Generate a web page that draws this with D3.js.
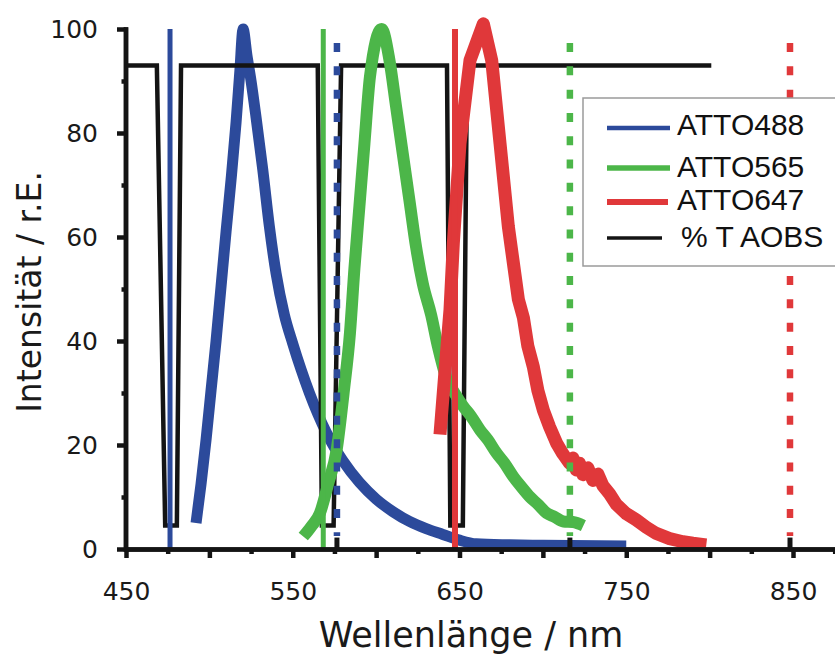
<!DOCTYPE html>
<html>
<head>
<meta charset="utf-8">
<script src="https://cdn.jsdelivr.net/npm/d3@7"></script>
<style>
  html, body { margin: 0; padding: 0; background: #fff; }
  svg { display: block; }
</style>
</head>
<body>
<svg id="chart" width="835" height="655"></svg>
<script>
// ---------------- DATA ----------------
const seriesNames = ["ATTO488", "ATTO565", "ATTO647", "% T AOBS"];
const seriesColors = ["#2c4a9b", "#4cb649", "#e0383a", "#141414"];

// emission spectra [wavelength nm, intensity]
const atto488 = [[492,5],[495,12.5],[498,21],[501,30.5],[504,40],[507,50.5],[510,61],[513,71],[516,82],
  [518.3,92],[520.2,100],[522.5,95],[525,90],[528,83],[532,73],[536,62],[540,53],[545,45],[550,39.5],
  [555,34.5],[560,30],[565,26],[570,22.5],[575,19.5],[580,17],[590,12.8],[600,9.6],[610,7.2],[620,5.3],
  [630,3.9],[640,2.8],[650,1.7],[660,1.0],[680,0.8],[700,0.7],[750,0.6]];
const atto565 = [[556.3,2.4],[561,4.3],[566.3,6.9],[571.3,12.6],[576.3,19],[580.5,30],[584.3,41.5],[587,54],
  [590,66],[593,78],[596.3,90.8],[603.3,100],[608,94],[612,85],[616,76],[620,67],[624,58],[628,51],[633,45],
  [637,39],[642,33],[647,30],[652.3,27.4],[657,25.5],[662.3,22.9],[667,21],[672.3,18.4],[677,16.5],[682.3,13.9],
  [687,12],[692.3,10],[697,8.6],[702.3,6.9],[707,6.2],[712.3,5.3],[718,5.2],[724.3,4.5]];
const atto647 = [[638.3,22],[641,33],[644.3,46],[646.3,58.8],[650.3,78],[656.3,94],[664.3,101],[669.3,94],
  [674.3,78],[679.3,62],[682.3,55],[685.3,48],[688.3,44.5],[691,39],[694.3,35],[697,30.5],[700.3,26.7],
  [704,23.5],[708.3,20.3],[712,18.3],[716,16.5],[718,17.5],[720,15.2],[722,16.5],[724,14.3],[727,15.6],
  [730,13.2],[733,14.4],[736,12.2],[740,10.6],[744,8.6],[750,6.8],[756,5.6],[762,4.2],[768,3],[776,2],
  [784,1.4],[790,1.1],[798,0.8]];
// AOBS transmission
const aobs = [[450,93],[468.5,93],[473.5,4.5],[480.5,4.5],[483,93],[565,93],[567.5,4.5],[574.5,4.5],[579,93],
  [642.5,93],[644.5,4.5],[652,4.5],[654.5,93],[801,93]];

// laser lines (solid) and detection limits (dashed)
const laserLines = [476.4, 568.3, 647.3];
const dashedLines = [576.5, 716.2, 848.2];
const dashTop = 97.3;

const xLabelTicks = [450, 550, 650, 750, 850];
const xMajorTicks = [450, 500, 550, 600, 650, 700, 750, 800, 850];
const xMinorTicks = [475, 525, 575, 625, 675, 725, 775, 825, 875];
const yMajorTicks = [0, 20, 40, 60, 80, 100];
const yMinorTicks = [10, 30, 50, 70, 90];

const xTitle = "Wellenlänge / nm";
const yTitle = "Intensität / r.E.";

// ---------------- CHART ----------------
const svg = d3.select("#chart");
const x = d3.scaleLinear().domain([450, 880]).range([126, 126 + 430 * 1.6675]);
const y = d3.scaleLinear().domain([0, 100]).range([549, 29]);

const numFont = "'DejaVu Sans', sans-serif";
const AX = "#141414";

const smooth = d3.line().x(d => x(d[0])).y(d => y(d[1])).curve(d3.curveMonotoneX);
const straight = d3.line().x(d => x(d[0])).y(d => y(d[1]));

// emission curves & AOBS
svg.append("path").attr("d", smooth(atto488))
  .attr("fill", "none").attr("stroke", seriesColors[0]).attr("stroke-width", 11).attr("stroke-linejoin", "round");
svg.append("path").attr("d", straight(aobs))
  .attr("fill", "none").attr("stroke", seriesColors[3]).attr("stroke-width", 4.5).attr("stroke-linejoin", "miter");
svg.append("path").attr("d", smooth(atto565))
  .attr("fill", "none").attr("stroke", seriesColors[1]).attr("stroke-width", 12).attr("stroke-linejoin", "round");
svg.append("path").attr("d", straight(atto647))
  .attr("fill", "none").attr("stroke", seriesColors[2]).attr("stroke-width", 13).attr("stroke-linejoin", "round");

// laser lines
svg.selectAll(".laser").data(laserLines).join("line").attr("class", "laser")
  .attr("x1", d => x(d)).attr("x2", d => x(d)).attr("y1", y(100)).attr("y2", y(0))
  .attr("stroke", (d, i) => seriesColors[i]).attr("stroke-width", (d, i) => i === 2 ? 6 : 5);

// dashed lines
svg.selectAll(".dash").data(dashedLines).join("line").attr("class", "dash")
  .attr("x1", d => x(d)).attr("x2", d => x(d)).attr("y1", y(dashTop)).attr("y2", y(2.5))
  .attr("stroke", (d, i) => seriesColors[i]).attr("stroke-width", 6.5).attr("stroke-dasharray", "9,14.3");
svg.selectAll(".dashEnd").data(dashedLines).join("line").attr("class", "dashEnd")
  .attr("x1", d => x(d)).attr("x2", d => x(d)).attr("y1", y(2.2)).attr("y2", y(0))
  .attr("stroke", AX).attr("stroke-width", 5);

// axes
const gx = svg.append("g").attr("transform", `translate(0,${y(0)})`);
gx.append("g").call(d3.axisBottom(x).tickValues(xMinorTicks).tickSize(5).tickSizeOuter(0).tickFormat(""));
gx.append("g").call(d3.axisBottom(x).tickValues(xMajorTicks).tickSize(9).tickSizeOuter(0).tickPadding(24)
  .tickFormat(d => xLabelTicks.includes(d) ? d : ""));
const gy = svg.append("g").attr("transform", `translate(${x(450) - 0.5},0)`);
gy.append("g").call(d3.axisLeft(y).tickValues(yMinorTicks).tickSize(4).tickSizeOuter(0).tickFormat(""));
gy.append("g").call(d3.axisLeft(y).tickValues(yMajorTicks).tickSize(8.5).tickSizeOuter(0).tickPadding(19));

svg.selectAll(".domain").attr("stroke", AX).attr("stroke-width", 4.5).attr("stroke-linecap", "square");
svg.selectAll(".tick line").attr("stroke", AX).attr("stroke-width", 4.5);
svg.selectAll(".tick text").attr("fill", "#1a1a1a").style("font-family", numFont)
  .style("font-weight", 400).style("font-size", "25px");

// axis titles
svg.append("text").text(xTitle).attr("x", 471).attr("y", 647).attr("text-anchor", "middle")
  .style("font-family", numFont).style("font-weight", 400).style("font-size", "35px").attr("fill", "#1a1a1a");
svg.append("text").text(yTitle).attr("transform", "translate(41,292) rotate(-90)").attr("text-anchor", "middle")
  .style("font-family", numFont).style("font-weight", 400).style("font-size", "33px").attr("fill", "#1a1a1a");

// legend
const lg = svg.append("g");
lg.append("rect").attr("x", 583).attr("y", 98).attr("width", 300).attr("height", 168)
  .attr("fill", "#fff").attr("stroke", "#9a9a9a").attr("stroke-width", 1.5);
const legLineY = [128, 168, 202, 238];
const legTextY = [135, 177, 210, 247];
const legLineX2 = [670, 670, 668, 662];
const legWidth = [4.5, 5.5, 6, 3.5];
seriesNames.forEach((n, i) => {
  lg.append("line").attr("x1", 607).attr("x2", legLineX2[i]).attr("y1", legLineY[i]).attr("y2", legLineY[i])
    .attr("stroke", seriesColors[i]).attr("stroke-width", legWidth[i]);
  lg.append("text").text(n).attr("x", i === 3 ? 681 : 677).attr("y", legTextY[i])
    .style("font-family", "'Liberation Sans', Arial, sans-serif").style("font-size", "30px").attr("fill", "#111");
});
</script>
</body>
</html>
